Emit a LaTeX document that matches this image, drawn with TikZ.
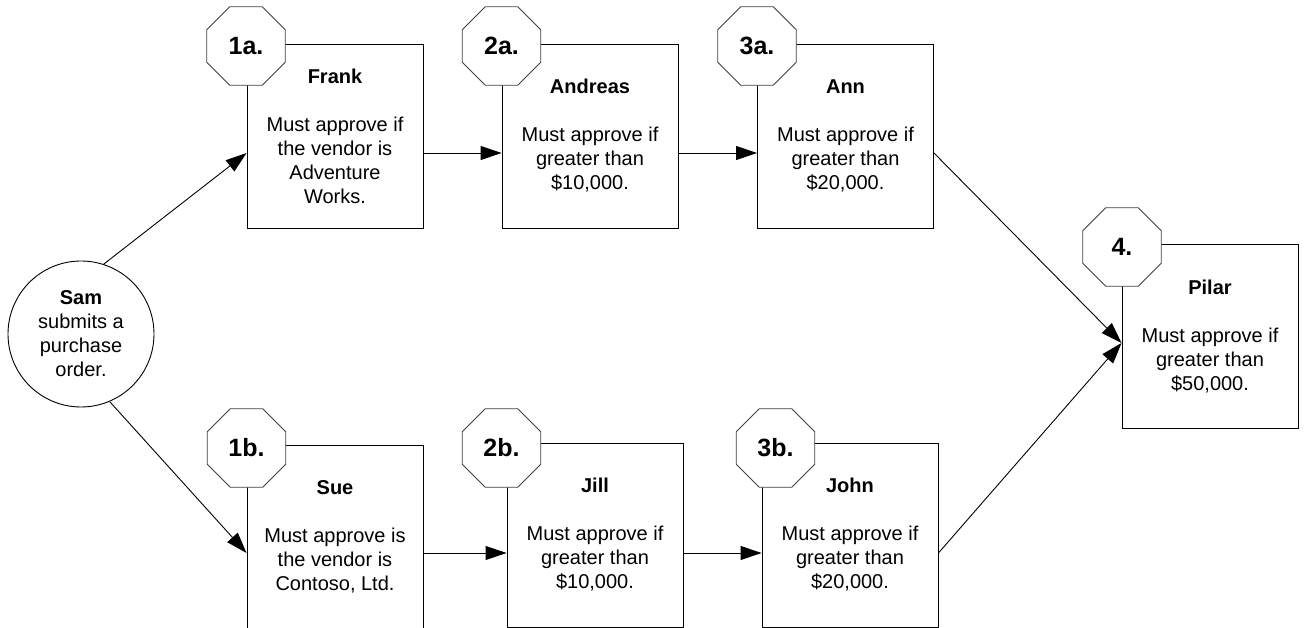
\documentclass[tikz,border=0pt]{standalone}
\usepackage{fontspec}
\setmainfont{Liberation Sans}
\usetikzlibrary{shapes.geometric,arrows.meta}
\begin{document}
\begin{tikzpicture}[x=1pt, y=-1pt,
  approver/.style={draw, line width=0.9pt, shape=rectangle, minimum width=176pt,
    minimum height=184pt, inner sep=0pt, align=center,
    font=\fontsize{20}{24}\selectfont},
  stepno/.style={draw=black!75, line width=0.9pt, fill=white, regular polygon,
    regular polygon sides=8, minimum size=85pt, inner sep=0pt,
    font=\fontsize{25}{30}\selectfont\bfseries},
  flow/.style={-{Triangle[length=21pt, width=14pt]}, line width=0.9pt}]
\useasboundingbox (0,0) rectangle (1307,628);
\node (sam) [draw, line width=0.9pt, shape=circle, minimum size=146pt, inner sep=0pt,
  align=center, font=\fontsize{20}{24}\selectfont] at (81,334)
  {\textbf{Sam}\\submits a\\purchase\\order.};
\node (frank) [approver] at (335,136)
  {\textbf{Frank}\\[24pt]Must approve if\\the vendor is\\Adventure\\Works.};
\node (andreas) [approver] at (590,136)
  {\textbf{Andreas}\\[24pt]Must approve if\\greater than\\\$10,000.};
\node (ann) [approver] at (845.5,136)
  {\textbf{Ann}\\[24pt]Must approve if\\greater than\\\$20,000.};
\node (sue) [approver] at (335,537)
  {\textbf{Sue}\\[24pt]Must approve is\\the vendor is\\Contoso, Ltd.};
\node (jill) [approver] at (595,535)
  {\textbf{Jill}\\[24pt]Must approve if\\greater than\\\$10,000.};
\node (john) [approver] at (850,535)
  {\textbf{John}\\[24pt]Must approve if\\greater than\\\$20,000.};
\node (pilar) [approver] at (1210,336.5)
  {\textbf{Pilar}\\[24pt]Must approve if\\greater than\\\$50,000.};
\node (tag1a) [stepno] at (246,46) {1a.};
\node (tag2a) [stepno] at (501.5,46) {2a.};
\node (tag3a) [stepno] at (757,46) {3a.};
\node (tag1b) [stepno] at (246.5,448) {1b.};
\node (tag2b) [stepno] at (501.5,448) {2b.};
\node (tag3b) [stepno] at (775.5,448) {3b.};
\node (tag4) [stepno] at (1122,247) {4.};
\draw[flow] (sam.72) -- ([yshift=-17pt]frank.west);
\draw[flow] (sam.-67) -- ([yshift=-16pt]sue.west);
\draw[flow] ([yshift=-17pt]frank.east) -- ([yshift=-17pt]andreas.west);
\draw[flow] ([yshift=-17pt]andreas.east) -- ([yshift=-17pt]ann.west);
\draw[flow] ([yshift=-16pt]sue.east) -- ([yshift=-18pt]jill.west);
\draw[flow] ([yshift=-18pt]jill.east) -- ([yshift=-18pt]john.west);
\draw[flow] ([yshift=-17pt]ann.east) -- ([yshift=-6.5pt]pilar.west);
\draw[flow] ([yshift=-18pt]john.east) -- ([yshift=-6.5pt]pilar.west);
\end{tikzpicture}
\end{document}
